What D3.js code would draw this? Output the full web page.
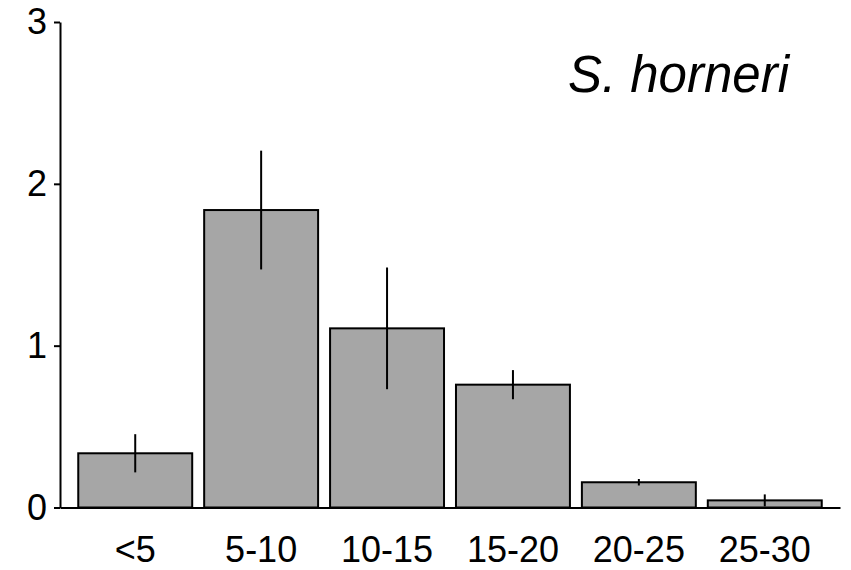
<!DOCTYPE html>
<html>
<head>
<meta charset="utf-8">
<script src="https://cdn.jsdelivr.net/npm/d3@7"></script>
<style>
  body { margin: 0; background: #fff; }
  text { font-family: "Liberation Sans", Arial, sans-serif; }
</style>
</head>
<body>
<svg id="chart"></svg>
<script>
const categories = ['<5', '5-10', '10-15', '15-20', '20-25', '25-30'];
const means = [0.335, 1.838, 1.107, 0.759, 0.156, 0.044];
const errors = [0.118, 0.367, 0.376, 0.09, 0.02, 0.037];
const yTicks = [0, 1, 2, 3];
const title = 'S. horneri';

const width = 851;
const height = 570;
const svg = d3.select('#chart').attr('width', width).attr('height', height);

const xScale = d3.scaleBand()
  .domain(categories)
  .range([60, 840])
  .paddingInner(0.095)
  .paddingOuter(0.145);

const yScale = d3.scaleLinear()
  .domain([0, 3])
  .range([507.5, 22]);

const dataset = categories.map((c, i) => ({ cat: c, value: means[i], err: errors[i] }));

// bars
svg.append('g')
  .selectAll('rect')
  .data(dataset)
  .enter()
  .append('rect')
  .attr('x', d => xScale(d.cat))
  .attr('y', d => yScale(d.value))
  .attr('width', xScale.bandwidth())
  .attr('height', d => yScale(0) - yScale(d.value))
  .attr('fill', '#a6a6a6')
  .attr('stroke', '#000')
  .attr('stroke-width', 2);

// error bars
svg.append('g')
  .selectAll('line')
  .data(dataset)
  .enter()
  .append('line')
  .attr('x1', d => xScale(d.cat) + xScale.bandwidth() / 2)
  .attr('x2', d => xScale(d.cat) + xScale.bandwidth() / 2)
  .attr('y1', d => yScale(d.value + d.err))
  .attr('y2', d => yScale(Math.max(0, d.value - d.err)))
  .attr('stroke', '#000')
  .attr('stroke-width', 2);

const axisy = d3.axisLeft(yScale)
  .tickValues(yTicks)
  .tickFormat(d3.format('d'))
  .tickSize(6)
  .tickSizeOuter(0)
  .tickPadding(7);

const gy = svg.append('g')
  .attr('transform', `translate(${60},${0})`)
  .call(axisy);
gy.select('.domain').attr('stroke-width', 2);
gy.selectAll('.tick line').attr('stroke-width', 2);
gy.selectAll('.tick text')
  .attr('fill', '#000')
  .style('font-size', '36px')
  .style('font-family', '"Liberation Sans", Arial, sans-serif');

const axisx = d3.axisBottom(xScale)
  .tickSize(0)
  .tickSizeOuter(0)
  .tickPadding(29);

const gx = svg.append('g')
  .attr('transform', `translate(${0},${507.5})`)
  .call(axisx);
gx.select('.domain').attr('stroke-width', 2);
gx.selectAll('.tick text')
  .attr('fill', '#000')
  .style('font-size', '36px')
  .style('font-family', '"Liberation Sans", Arial, sans-serif');

svg.append('text')
  .attr('x', 789)
  .attr('y', 92)
  .attr('text-anchor', 'end')
  .style('font-size', '51px')
  .style('font-style', 'italic')
  .attr('fill', '#000')
  .text(title);
</script>
</body>
</html>
